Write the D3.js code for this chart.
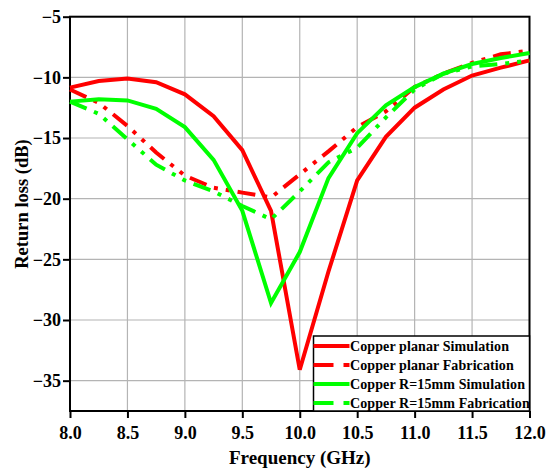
<!DOCTYPE html>
<html>
<head>
<meta charset="utf-8">
<script src="https://cdn.jsdelivr.net/npm/d3@7"></script>
<style>
  body { margin: 0; background: #fff; }
  svg text { font-family: "Liberation Serif", "DejaVu Serif", serif !important; font-weight: bold; }
</style>
</head>
<body>
<script>
const freq = [8.0, 8.25, 8.5, 8.75, 9.0, 9.25, 9.5, 9.75, 10.0, 10.25, 10.5, 10.75, 11.0, 11.25, 11.5, 11.75, 12.0]
const planarSim = [-10.85, -10.3, -10.1, -10.4, -11.4, -13.2, -16.0, -21.0, -34.1, -26.0, -18.5, -14.9, -12.5, -11.0, -9.85, -9.2, -8.6]
const planarFab = [-11.0, -12.1, -14.0, -16.2, -18.1, -19.1, -19.5, -19.9, -18.0, -16.1, -14.1, -12.8, -10.8, -9.7, -8.8, -8.1, -7.8]
const r15Sim = [-12.0, -11.8, -11.9, -12.6, -14.1, -16.8, -21.0, -28.6, -24.4, -18.3, -14.6, -12.3, -10.8, -9.7, -8.9, -8.4, -8.0]
const r15Fab = [-12.0, -13.0, -15.1, -17.2, -18.5, -19.4, -20.6, -21.7, -19.4, -17.0, -15.8, -13.3, -11.0, -9.7, -9.1, -8.9, -8.6]
const xTicks = [8.0, 8.5, 9.0, 9.5, 10.0, 10.5, 11.0, 11.5, 12.0]
const yTicks = [-5, -10, -15, -20, -25, -30, -35]
const seriesNames = ["Copper planar Simulation", "Copper planar Fabrication", "Copper R=15mm Simulation", "Copper R=15mm Fabrication"]

const width = 549, height = 470
const plotL = 70, plotR = 529.5, plotT = 16.7, plotB = 411

const svg = d3.select("body").append("svg")
    .attr("width", width)
    .attr("height", height)

const x = d3.scaleLinear().domain([8, 12]).range([plotL, plotR])
const y = d3.scaleLinear().domain([-37.5, -5]).range([plotB, plotT])

// grid
svg.append("g").selectAll("line")
  .data(xTicks)
  .enter().append("line")
    .attr("x1", d => x(d)).attr("x2", d => x(d))
    .attr("y1", plotT).attr("y2", plotB)
    .attr("stroke", "#b4b4b4").attr("stroke-width", 1.2)
svg.append("g").selectAll("line")
  .data(yTicks)
  .enter().append("line")
    .attr("x1", plotL).attr("x2", plotR)
    .attr("y1", d => y(d)).attr("y2", d => y(d))
    .attr("stroke", "#b4b4b4").attr("stroke-width", 1.2)

// axes
const xAxis = svg.append("g")
    .attr("transform", `translate(0,${plotB})`)
    .call(d3.axisBottom(x).tickValues(xTicks).tickFormat(d3.format(".1f")).tickSize(7).tickSizeOuter(0))
const yAxis = svg.append("g")
    .attr("transform", `translate(${plotL},0)`)
    .call(d3.axisLeft(y).tickValues(yTicks).tickSize(7).tickSizeOuter(0))

svg.selectAll("g").attr("font-family", null).attr("font-size", null)
xAxis.selectAll("text").attr("font-size", "18px").attr("dy", "1.0em").attr("fill", "#000")
yAxis.selectAll("text").attr("font-size", "18px").attr("x", -9).attr("fill", "#000")
svg.selectAll(".tick line").attr("stroke", "#000").attr("stroke-width", 2)
svg.selectAll(".domain").remove()

// frame
svg.append("rect")
    .attr("x", plotL).attr("y", plotT)
    .attr("width", plotR - plotL).attr("height", plotB - plotT)
    .attr("fill", "none").attr("stroke", "#000").attr("stroke-width", 2)

// curves
const series = [
  {name: seriesNames[0], values: planarSim, color: "#ff0000", dash: null},
  {name: seriesNames[1], values: planarFab, color: "#ff0000", dash: "18 8 4 8 4 8"},
  {name: seriesNames[2], values: r15Sim, color: "#00ff00", dash: null},
  {name: seriesNames[3], values: r15Fab, color: "#00ff00", dash: "18 8 4 8 4 8"}
]

const line = d3.line()
    .x((d, i) => x(freq[i]))
    .y(d => y(d))

svg.append("g").selectAll("path")
  .data(series)
  .enter().append("path")
    .attr("d", d => line(d.values))
    .attr("fill", "none")
    .attr("stroke", d => d.color)
    .attr("stroke-width", 4)
    .attr("stroke-dasharray", d => d.dash)

// legend
const lgX = 313.5, lgY = 336
const legend = svg.append("g")
legend.append("rect")
    .attr("x", lgX).attr("y", lgY)
    .attr("width", plotR - lgX).attr("height", plotB - lgY)
    .attr("fill", "#fff").attr("stroke", "#000").attr("stroke-width", 1.5)

const item = legend.selectAll("g.item")
  .data(series)
  .enter().append("g")
    .attr("class", "item")
    .attr("transform", (d, i) => `translate(${lgX},${lgY + 10 + i * 19})`)
item.append("line")
    .attr("x1", 0).attr("x2", 36)
    .attr("stroke", d => d.color)
    .attr("stroke-width", 4)
    .attr("stroke-dasharray", d => d.dash ? "20 10 6 10" : null)
item.append("text")
    .attr("x", 36.5).attr("dy", "0.35em")
    .attr("font-size", "14px")
    .attr("letter-spacing", "0.1px")
    .text(d => d.name)

// axis titles
svg.append("text")
    .attr("x", (plotL + plotR) / 2).attr("y", 464)
    .attr("text-anchor", "middle")
    .attr("font-size", "19px")
    .text("Frequency (GHz)")
svg.append("text")
    .attr("transform", "translate(28,204) rotate(-90)")
    .attr("text-anchor", "middle")
    .attr("font-size", "18.5px")
    .text("Return loss (dB)")
</script>
</body>
</html>
